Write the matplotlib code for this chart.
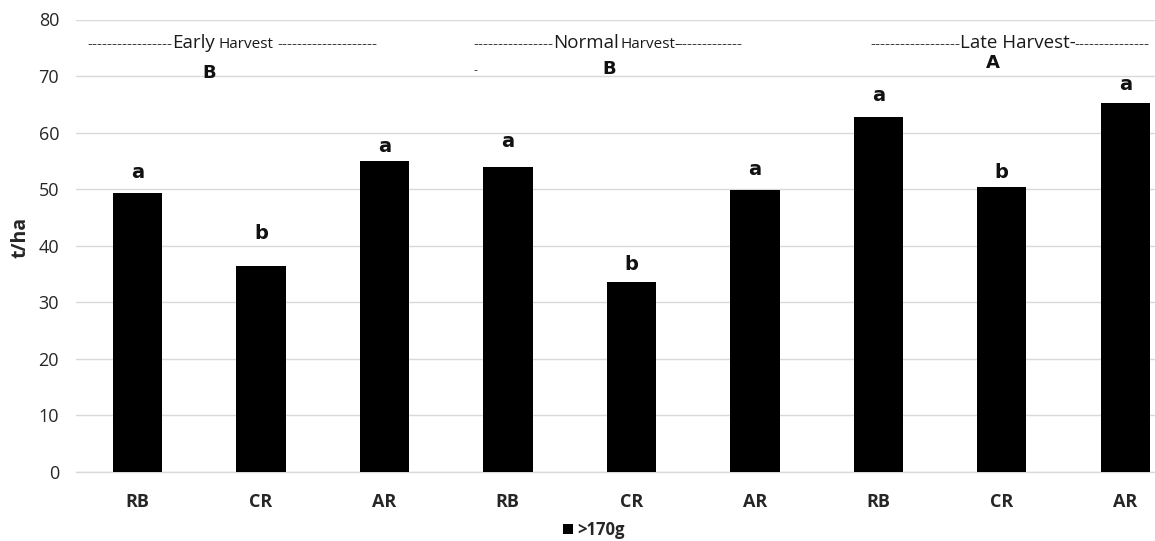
import matplotlib
matplotlib.use("Agg")
import matplotlib.pyplot as plt
from matplotlib.transforms import blended_transform_factory

# ---- data ----
categories = ["RB", "CR", "AR", "RB", "CR", "AR", "RB", "CR", "AR"]
values = [49.4, 36.5, 55.0, 54.0, 33.6, 49.8, 62.7, 50.3, 65.2]
letters = ["a", "b", "a", "a", "b", "a", "a", "b", "a"]
letter_y = [51.9, 41.2, 56.6, 57.5, 35.7, 52.5, 65.6, 51.9, 67.5]
series_name = ">170g"
y_ticks = [0, 10, 20, 30, 40, 50, 60, 70, 80]

W, H = 1155, 541
fig = plt.figure(figsize=(W / 100, H / 100), dpi=100)
ax_left, ax_right = 75.7, 1187.0
ax_top, ax_bot = 19.5, 472.0
ax = fig.add_axes([ax_left / W, (H - ax_bot) / H, (ax_right - ax_left) / W, (ax_bot - ax_top) / H])

x = list(range(len(categories)))
bars = ax.bar(x, values, width=0.4, color="black", label=series_name, zorder=3)
ax.set_xlim(-0.5, len(categories) - 0.5)
ax.set_ylim(0, 80)
ax.set_yticks(y_ticks)
ax.yaxis.grid(True, color="#d9d9d9", linewidth=1.0, zorder=0)
for s in ["top", "right", "left"]:
    ax.spines[s].set_visible(False)
ax.spines["bottom"].set_color("#d9d9d9")
ax.spines["bottom"].set_linewidth(1.0)
ax.tick_params(axis="both", length=0)
ax.tick_params(axis="y", pad=12, labelsize=13, labelcolor="#262626")
ax.tick_params(axis="x", pad=15, labelsize=13)
ax.set_xticks(x)
ax.set_xticklabels(categories, fontfamily="Open Sans", fontweight="bold", color="#262626")
for t in ax.get_yticklabels():
    t.set_fontfamily("Open Sans")

# significance letters
for xi, lt, ly in zip(x, letters, letter_y):
    ax.text(xi, ly, lt, ha="center", va="baseline", fontsize=14,
            fontweight="bold", family="DejaVu Sans", color="#111111")

# y label
fig.text(20 / W, 1 - 237 / H, "t/ha", rotation=90, ha="center", va="center",
         fontsize=14, fontweight="bold", family="Open Sans", color="#262626")

# header annotations (x in figure pixels, y in data units)
tr = blended_transform_factory(fig.transFigure, ax.transData)
def put(px, y, s, size, ha="left", weight="normal", color="#1a1a1a"):
    ax.text(px / W, y, s, transform=tr, ha=ha, va="baseline", fontsize=size,
            fontweight=weight, family="Open Sans", color=color, clip_on=False)

dash_c = "#404040"
hy = 74.9
# Early
put(172, hy, "-" * 17, 11, ha="right", color=dash_c)
put(172, hy, "Early", 13.5, weight="medium")
put(218, hy, "Harvest", 11, weight="medium")
put(277, hy, "-" * 20, 11, color=dash_c)
# Normal
put(553, hy, "-" * 16, 11, ha="right", color=dash_c)
put(553, hy, "Normal", 13.5, weight="medium")
put(621, hy, "Harvest-", 11, weight="medium")
put(677, hy, "-" * 13, 11, color=dash_c)
# Late
put(960, hy, "-" * 18, 11, ha="right", color=dash_c)
put(960, hy, "Late Harvest-", 13.5, weight="medium")
put(1074, hy, "-" * 15, 11, color=dash_c)

def cap(px, y, s):
    ax.text(px / W, y, s, transform=tr, ha="center", va="baseline", fontsize=13,
            fontweight="bold", family="DejaVu Sans", color="#111111", clip_on=False)
cap(209, 69.6, "B")
cap(609, 70.4, "B")
cap(993, 71.4, "A")
put(476, 70.4, "-", 9, ha="center", color=dash_c)

leg = fig.legend(handles=[bars], labels=[series_name], loc="center",
                 bbox_to_anchor=(594 / W, 1 - 530 / H), frameon=False,
                 handlelength=0.6, handleheight=0.6, handletextpad=0.3,
                 prop={"family": "Open Sans", "weight": "bold", "size": 12})
for t in leg.get_texts():
    t.set_color("#262626")

fig.savefig("out.png", dpi=100)
